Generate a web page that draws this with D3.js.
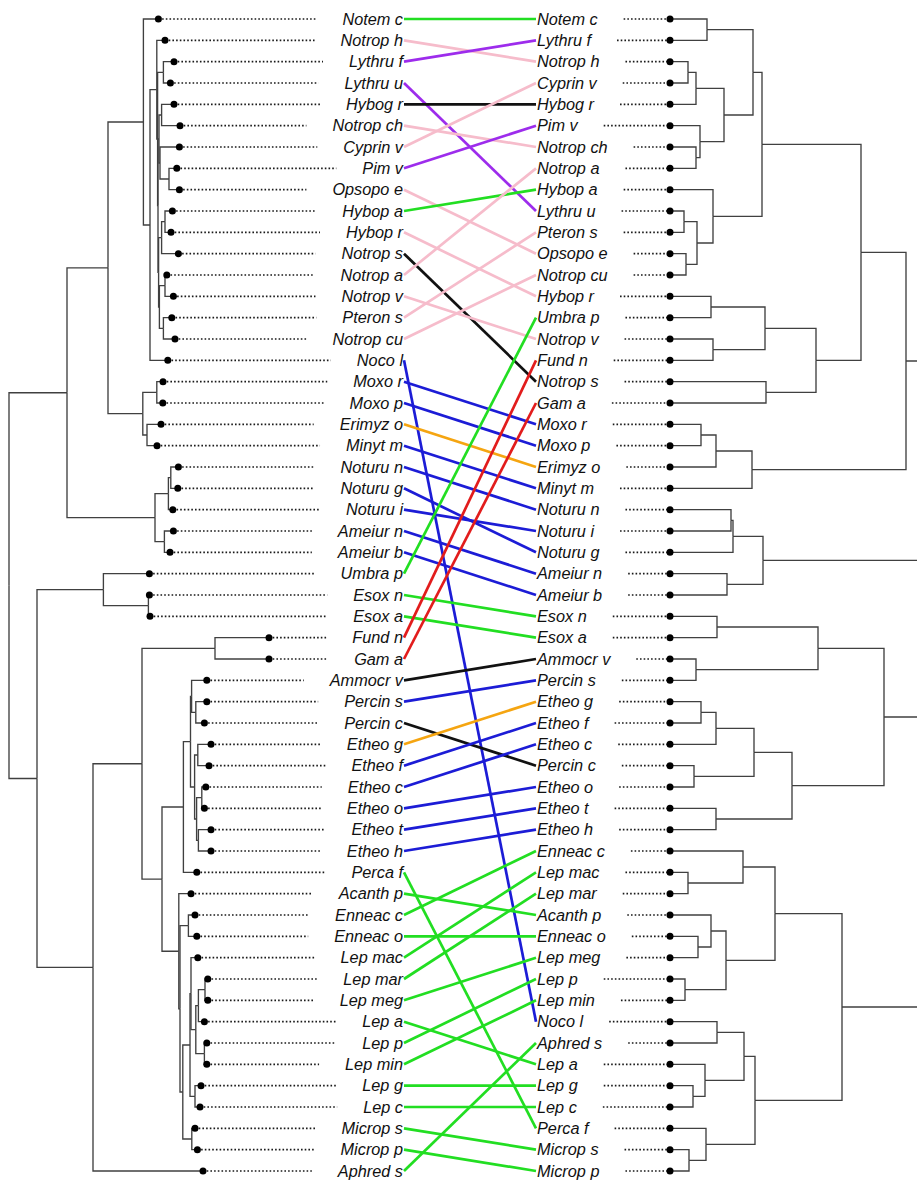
<!DOCTYPE html>
<html><head><meta charset="utf-8">
<script src="https://cdn.jsdelivr.net/npm/d3@7"></script>
<style>
html,body{margin:0;padding:0;background:#fff;overflow:hidden}
svg{display:block;overflow:hidden}
.lab{font-family:"Liberation Sans",Arial,sans-serif;font-style:italic;font-size:16.3px;fill:#111}
</style></head><body><div id="chart"></div>
<script>
// Left tree (phylogram): internal node = [depth, child, child], tip = [name, depth]
const leftTree =
[0,
  [0.29,
    [0.495,
      [0.672,
        ["Notem c", 0.747],
        [0.705,
          [0.739,
            ["Notrop h", 0.78],
            [0.743,
              [0.772, ["Lythru f", 0.825], ["Lythru u", 0.807]],
              [0.745,
                [0.75,
                  [0.763, ["Hybog r", 0.825], ["Notrop ch", 0.855]],
                  [0.755, ["Cyprin v", 0.852], [0.8, ["Pim v", 0.839], ["Opsopo e", 0.852]]]],
                [0.748,
                  [0.763, [0.78, ["Hybop a", 0.817], ["Hybop r", 0.81]], ["Notrop s", 0.847]],
                  [0.752, [0.78, ["Notrop a", 0.789], ["Notrop v", 0.822]], [0.772, ["Pteron s", 0.814], ["Notrop cu", 0.83]]]]]]],
          ["Noco l", 0.794]]],
      [0.669,
        [0.739, ["Moxo r", 0.77], ["Moxo p", 0.769]],
        [0.69, ["Erimyz o", 0.76], ["Minyt m", 0.74]]]],
    [0.73,
      [0.797, [0.809, ["Noturu n", 0.847], ["Noturu g", 0.844]], ["Noturu i", 0.819]],
      [0.777, ["Ameiur n", 0.822], ["Ameiur b", 0.805]]]],
  [0.14,
    [0.472, ["Umbra p", 0.702], [0.697, ["Esox n", 0.702], ["Esox a", 0.705]]],
    [0.42,
      [0.665,
        [1.03, ["Fund n", 1.3], ["Gam a", 1.3]],
        [0.765,
          [0.872,
            [0.9075,
              [0.913, ["Ammocr v", 0.989], [0.934, ["Percin s", 0.989], ["Percin c", 0.977]]],
              [0.928, [0.944, ["Etheo g", 1.01], ["Etheo f", 1.0]],
                      [0.938, [0.964, ["Etheo c", 0.984], ["Etheo o", 0.977]], [0.947, ["Etheo t", 1.01], ["Etheo h", 1.01]]]]],
            ["Perca f", 0.939]],
          [0.849,
            ["Acanth p", 0.91],
            [0.855,
              [0.897, ["Enneac c", 0.93], ["Enneac o", 0.939]],
              [0.869,
                [0.905,
                  [0.91, ["Lep mac", 0.944],
                         [0.934, [0.947, [0.98, ["Lep mar", 0.994], ["Lep meg", 0.994]], ["Lep a", 0.977]],
                                 [0.977, ["Lep p", 0.989], ["Lep min", 0.989]]]],
                  [0.93, ["Lep g", 0.96], ["Lep c", 0.955]]],
                [0.914, ["Microp s", 0.93], ["Microp p", 0.942]]]]]]],
      ["Aphred s", 0.97]]]];

// Right tree (dendrogram): internal node = [height, child, child], tip = [name, 0]
const rightTree =
[1.12,
  [1.06,
    [0.944,
      [0.764,
        [0.368,
          [0.332,
            [0.148, ["Notem c", 0], ["Lythru f", 0]],
            [0.216,
              [0.104, [0.072, ["Notrop h", 0], ["Cyprin v", 0]], ["Hybog r", 0]],
              [0.12, ["Pim v", 0], [0.104, ["Notrop ch", 0], ["Notrop a", 0]]]]],
          [0.172,
            ["Hybop a", 0],
            [0.108, [0.056, ["Lythru u", 0], ["Pteron s", 0]], [0.064, ["Opsopo e", 0], ["Notrop cu", 0]]]]],
        [0.584,
          [0.38, [0.164, ["Hybop r", 0], ["Umbra p", 0]], [0.172, ["Notrop v", 0], ["Fund n", 0]]],
          [0.384, ["Notrop s", 0], ["Gam a", 0]]]],
      [0.328,
        [0.184, [0.124, ["Moxo r", 0], ["Moxo p", 0]], ["Erimyz o", 0]],
        ["Minyt m", 0]]],
    [0.372,
      [0.252, [0.244, ["Noturu n", 0], ["Noturu i", 0]], ["Noturu g", 0]],
      [0.228, ["Ameiur n", 0], ["Ameiur b", 0]]]],
  [1.04,
    [0.856,
      [0.592, [0.188, ["Esox n", 0], ["Esox a", 0]], [0.104, ["Ammocr v", 0], ["Percin s", 0]]],
      [0.488,
        [0.336, [0.184, [0.124, ["Etheo g", 0], ["Etheo f", 0]], ["Etheo c", 0]], [0.096, ["Percin c", 0], ["Etheo o", 0]]],
        [0.184, ["Etheo t", 0], ["Etheo h", 0]]]],
    [0.688,
      [0.42,
        [0.292, ["Enneac c", 0], [0.072, ["Lep mac", 0], ["Lep mar", 0]]],
        [0.224, [0.164, ["Acanth p", 0], [0.112, ["Enneac o", 0], ["Lep meg", 0]]], [0.06, ["Lep p", 0], ["Lep min", 0]]]],
      [0.34,
        [0.296, [0.188, ["Noco l", 0], ["Aphred s", 0]], [0.14, ["Lep a", 0], [0.092, ["Lep g", 0], ["Lep c", 0]]]],
        [0.144, ["Perca f", 0], [0.076, ["Microp s", 0], ["Microp p", 0]]]]]]];

// Connector colour group for each taxon
const linkGroup = [
  ["Notem c","green"],["Notrop h","pink"],["Lythru f","purple"],["Lythru u","purple"],
  ["Hybog r","black"],["Notrop ch","pink"],["Cyprin v","pink"],["Pim v","purple"],
  ["Opsopo e","pink"],["Hybop a","green"],["Hybop r","pink"],["Notrop s","black"],
  ["Notrop a","pink"],["Notrop v","pink"],["Pteron s","pink"],["Notrop cu","pink"],
  ["Noco l","blue"],["Moxo r","blue"],["Moxo p","blue"],["Erimyz o","orange"],
  ["Minyt m","blue"],["Noturu n","blue"],["Noturu g","blue"],["Noturu i","blue"],
  ["Ameiur n","blue"],["Ameiur b","blue"],["Umbra p","green"],["Esox n","green"],
  ["Esox a","green"],["Fund n","red"],["Gam a","red"],["Ammocr v","black"],
  ["Percin s","blue"],["Percin c","black"],["Etheo g","orange"],["Etheo f","blue"],
  ["Etheo c","blue"],["Etheo o","blue"],["Etheo t","blue"],["Etheo h","blue"],
  ["Perca f","green"],["Acanth p","green"],["Enneac c","green"],["Enneac o","green"],
  ["Lep mac","green"],["Lep mar","green"],["Lep meg","green"],["Lep a","green"],
  ["Lep p","green"],["Lep min","green"],["Lep g","green"],["Lep c","green"],
  ["Microp s","green"],["Microp p","green"],["Aphred s","green"]
];
const groupColours = [
  ["green","#22de22"],["pink","#f6bccb"],["purple","#9d2cec"],["black","#111111"],
  ["blue","#1c1cd6"],["orange","#f5a511"],["red","#e21c1c"]
];

const W = 917, H = 1180;
const svg = d3.select("#chart").append("svg").attr("width", W).attr("height", H);

function toNode(a) {
  if (typeof a[0] === "string") return { name: a[0], value: a[1] };
  return { value: a[0], children: a.slice(1).map(toNode) };
}
const rootL = d3.hierarchy(toNode(leftTree));
const rootR = d3.hierarchy(toNode(rightTree));

const yL = d3.scalePoint().domain(rootL.leaves().map(d => d.data.name)).range([19, 1171]);
const yR = d3.scalePoint().domain(rootR.leaves().map(d => d.data.name)).range([19, 1171]);
const xL = d3.scaleLinear().domain([0, 1]).range([9, 209]);
const xR = d3.scaleLinear().domain([0, 1]).range([670, 920]);

function place(root, x, y) {
  root.eachAfter(n => {
    n.px = x(n.data.value);
    n.py = n.children
      ? (n.children[0].py + n.children[n.children.length - 1].py) / 2
      : y(n.data.name);
  });
}
place(rootL, xL, yL);
place(rootR, xR, yR);

function drawTree(root) {
  const g = svg.append("g");
  g.selectAll("path").data(root.links()).join("path")
    .attr("fill", "none").attr("stroke", "#404040").attr("stroke-width", 1.35)
    .attr("d", l => `M${l.source.px},${l.source.py}V${l.target.py}H${l.target.px}`);
  return g;
}
drawTree(rootL);
drawTree(rootR);

const leftX = 403, rightX = 537, gap = 26;

// labels
const labL = svg.append("g").selectAll("text").data(rootL.leaves()).join("text")
  .attr("class", "lab").attr("x", leftX).attr("y", d => d.py).attr("dy", "0.35em")
  .attr("text-anchor", "end").text(d => d.data.name);
const labR = svg.append("g").selectAll("text").data(rootR.leaves()).join("text")
  .attr("class", "lab").attr("x", rightX).attr("y", d => d.py).attr("dy", "0.35em")
  .attr("text-anchor", "start").text(d => d.data.name);

// dotted leaders from tips to labels
const lead = svg.append("g").attr("stroke", "#1a1a1a").attr("stroke-width", 1.6)
  .attr("stroke-dasharray", "1.6 2.1");
labL.each(function(d) {
  const w = this.getComputedTextLength();
  lead.append("line").attr("x1", d.px).attr("x2", leftX - w - gap).attr("y1", d.py).attr("y2", d.py);
});
labR.each(function(d) {
  const w = this.getComputedTextLength();
  lead.append("line").attr("x1", rightX + w + gap).attr("x2", d.px).attr("y1", d.py).attr("y2", d.py);
});

// tip dots
const dots = svg.append("g");
dots.selectAll("circle.l").data(rootL.leaves()).join("circle").attr("class", "l")
  .attr("cx", d => d.px).attr("cy", d => d.py).attr("r", 3.5).attr("fill", "#000");
dots.selectAll("circle.r").data(rootR.leaves()).join("circle").attr("class", "r")
  .attr("cx", d => d.px).attr("cy", d => d.py).attr("r", 3.5).attr("fill", "#000");

// connectors between matching taxa
const colour = d3.scaleOrdinal().domain(groupColours.map(d => d[0])).range(groupColours.map(d => d[1]));
svg.append("g").selectAll("line").data(linkGroup).join("line")
  .attr("x1", leftX + 1).attr("x2", rightX - 1)
  .attr("y1", d => yL(d[0])).attr("y2", d => yR(d[0]))
  .attr("stroke", d => colour(d[1])).attr("stroke-width", 2.7);
</script></body></html>
